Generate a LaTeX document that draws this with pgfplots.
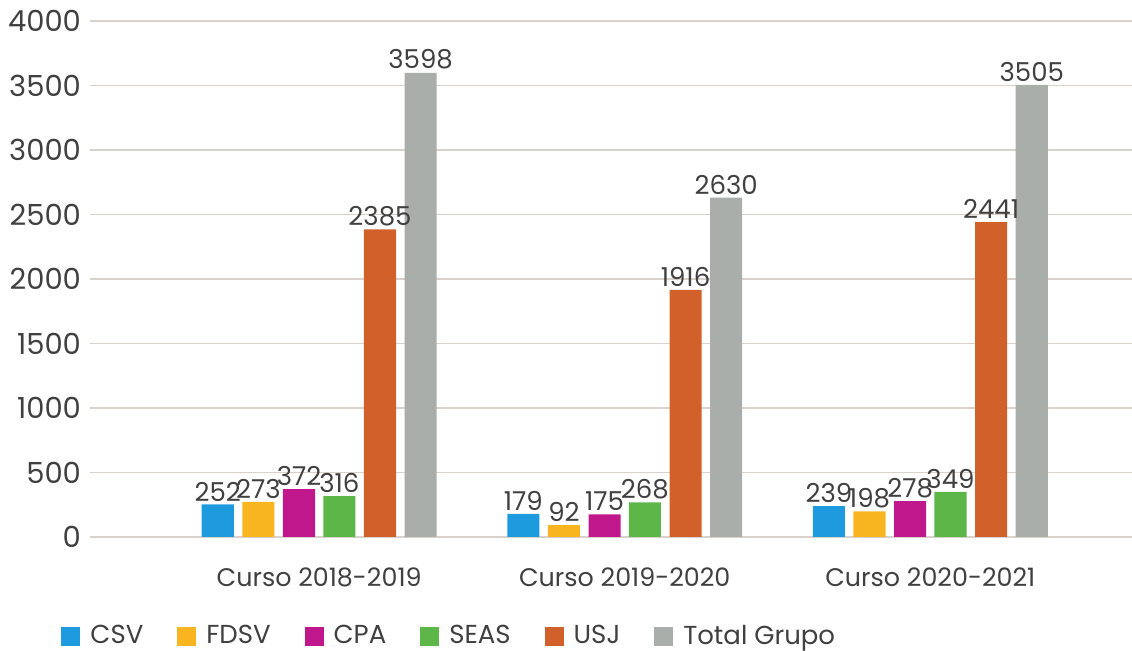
\documentclass[border=0pt]{standalone}
\usepackage{fontspec}
\setmainfont{Poppins}
\usepackage{pgfplots}
\pgfplotsset{compat=1.18}
\usetikzlibrary{calc}
\definecolor{cCSV}{HTML}{1E9BDF}
\definecolor{cFDSV}{HTML}{F8B520}
\definecolor{cCPA}{HTML}{C1178C}
\definecolor{cSEAS}{HTML}{5DB648}
\definecolor{cUSJ}{HTML}{D2602B}
\definecolor{cTot}{HTML}{A9AEAB}
\definecolor{gridc}{HTML}{D8D1CC}
\definecolor{txt}{HTML}{404040}
\begin{document}
\begin{tikzpicture}
\begin{axis}[
  scale only axis, width=521pt, height=258pt,
  ymin=0, ymax=4000, ytick={0,500,...,4000},
  xmin=-0.75, xmax=2.66,
  xtick={0,1,2}, xticklabels={Curso 2018-2019,Curso 2019-2020,Curso 2020-2021},
  axis line style={draw=none}, major tick length=0pt,
  ymajorgrids, grid style={draw=gridc, line width=0.9pt},
  scaled y ticks=false,
  /pgf/number format/assume math mode=true,
  /pgf/number format/1000 sep={},
  every tick label/.append style={text=txt},
  yticklabel style={font=\fontsize{14.5}{16}\selectfont, xshift=-1pt},
  xticklabel style={font=\fontsize{12.7}{15}\selectfont, yshift=-12pt},
  ybar, bar width=0.105,
  nodes near coords,
  nodes near coords style={font=\fontsize{13}{15}\selectfont, text=txt, inner sep=1.5pt},
  legend columns=6,
  legend style={at={(-0.0278,-0.192)}, anchor=west, draw=none, fill=none,
    font=\fontsize{13}{15}\selectfont, text=txt, inner sep=0pt,
    nodes={inner sep=0pt},
    /tikz/every odd column/.append style={column sep=5pt},
    /tikz/every even column/.append style={column sep=17pt}},
  legend image code/.code={\fill[#1] (0pt,-4.75pt) rectangle (9.5pt,4.75pt);},
]
\addplot[fill=cCSV, draw=none, bar shift=-0.332] coordinates {(0,252) (1,179) (2,239)};
\addlegendentry{CSV}
\addplot[fill=cFDSV, draw=none, bar shift=-0.199] coordinates {(0,273) (1,92) (2,198)};
\addlegendentry{FDSV}
\addplot[fill=cCPA, draw=none, bar shift=-0.066] coordinates {(0,372) (1,175) (2,278)};
\addlegendentry{CPA}
\addplot[fill=cSEAS, draw=none, bar shift=0.066] coordinates {(0,316) (1,268) (2,349)};
\addlegendentry{SEAS}
\addplot[fill=cUSJ, draw=none, bar shift=0.199] coordinates {(0,2385) (1,1916) (2,2441)};
\addlegendentry{USJ}
\addplot[fill=cTot, draw=none, bar shift=0.332] coordinates {(0,3598) (1,2630) (2,3505)};
\addlegendentry{Total Grupo}
\end{axis}
\pgfresetboundingbox
\path[use as bounding box] ($(current axis.south west)+(-45pt,-57pt)$) rectangle ($(current axis.north east)+(0pt,10.5pt)$);
\end{tikzpicture}
\end{document}
